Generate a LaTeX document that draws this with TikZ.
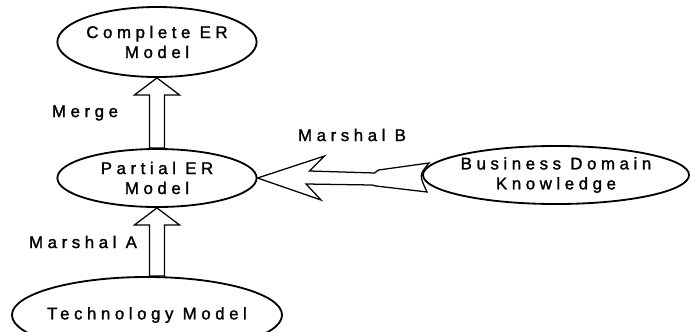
\documentclass[tikz,border=0pt]{standalone}
\usepackage{fontspec}
\setmainfont{Liberation Sans}[LetterSpace=27,FakeBold=1.5]
\usetikzlibrary{shapes.geometric,calc}

\begin{document}
\begin{tikzpicture}[x=0.025cm,y=-0.025cm,
  every node/.style={font=\fontsize{12}{14.2}\selectfont},
  model/.style={ellipse,draw,line width=1.3pt,inner xsep=-10pt,inner ysep=0pt,align=center},
  blockarrow/.style={draw,line width=0.9pt,line join=miter}]
\useasboundingbox (0,0) rectangle (690,331);

% the models
\node[model,minimum width=4.98cm,minimum height=1.75cm] (complete) at (157,42) {Complete ER\\Model};
\node[model,minimum width=4.98cm,minimum height=1.45cm] (partial) at (157,178) {Partial ER\\Model};
\node[model,minimum width=6.65cm,minimum height=1.45cm] (business) at (556,175) {Business Domain\\Knowledge};
\node[model,minimum width=6.75cm,minimum height=1.9cm] (tech) at (147,315) {Technology Model};

% labels
\node (merge) at (85,113) {Merge};
\node (marshalA) at (83,242) {Marshal A};
\node (marshalB) at (352,135) {Marshal B};

% partial -> complete
\draw[blockarrow] (complete.south) -- ++(-22.5,17) -- ++(15,0) coordinate (m)
  -- (m |- partial.north) -- ++(15,0) |- ($(complete.south)+(22.5,17)$) -- cycle;

% technology -> partial
\draw[blockarrow] (partial.south) -- ++(-22.5,17) -- ++(15,0) coordinate (a)
  -- (a |- tech.north) -- ++(15,0) |- ($(partial.south)+(22.5,17)$) -- cycle;

% business -> partial
\draw[blockarrow] (partial.east) -- ++(67,-22) -- ++(-15,15) -- ++(65,2) -- ++(4,-3)
  -- ($(business.west)+(7,-12)$) .. controls ($(business.west)+(-3,0)$) .. ($(business.west)+(5,17)$)
  -- ++(-51,-6) -- ++(-4,-1) -- ++(-66,-1) -- ++(15,16) -- cycle;

\end{tikzpicture}
\end{document}
